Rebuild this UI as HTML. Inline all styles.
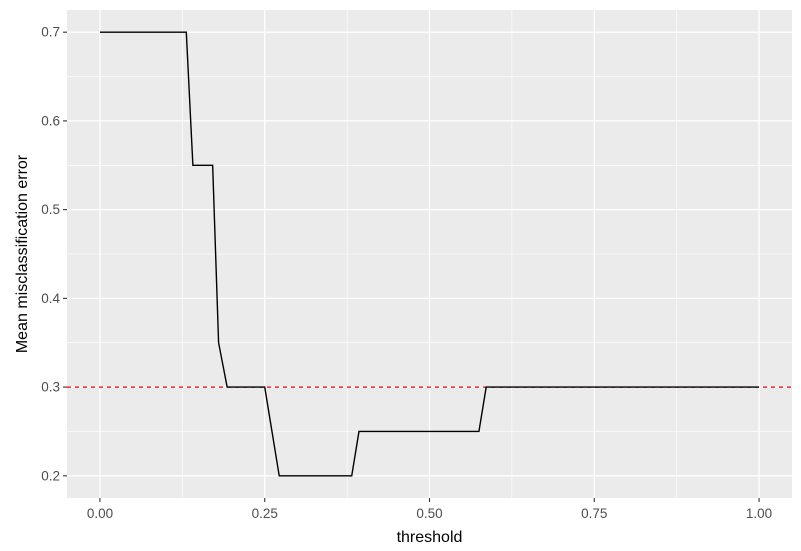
<!DOCTYPE html>
<html><head><meta charset="utf-8"><style>body{margin:0;background:#fff}svg{display:block;font-family:"Liberation Sans",sans-serif}</style></head>
<body>
<svg id="chart" width="801" height="551"></svg>
<script>
const thresholds=[0,0.131,0.141,0.171,0.18,0.193,0.25,0.272,0.382,0.393,0.575,0.586,1.0];
const errors=[0.7,0.7,0.55,0.55,0.35,0.30,0.30,0.20,0.20,0.25,0.25,0.30,0.30];
const xTicks=[0,0.25,0.5,0.75,1.0];
const xTickLabels=["0.00","0.25","0.50","0.75","1.00"];
const yTicks=[0.2,0.3,0.4,0.5,0.6,0.7];
const yTickLabels=["0.2","0.3","0.4","0.5","0.6","0.7"];
const refLine=0.3;
const NS="http://www.w3.org/2000/svg";
const svg=document.getElementById('chart');
const L=67,R=792,T=10,B=498;
const x=v=>L+(v+0.05)/1.1*(R-L);
const y=v=>B-(v-0.175)/0.55*(B-T);
function mk(tag,attrs,parent){const e=document.createElementNS(NS,tag);for(const k in attrs)e.setAttribute(k,attrs[k]);(parent||svg).appendChild(e);return e;}
const panel=mk('rect',{x:L,y:T,width:R-L,height:B-T,fill:'#ebebeb'});


const grid=mk('g',{});


for(let i=0;i<xTicks.length-1;i++){const m=(xTicks[i]+xTicks[i+1])/2;mk('line',{x1:x(m),x2:x(m),y1:T,y2:B,stroke:'#fff','stroke-width':0.6},grid);}
for(let i=0;i<yTicks.length-1;i++){const m=(yTicks[i]+yTicks[i+1])/2;mk('line',{x1:L,x2:R,y1:y(m),y2:y(m),stroke:'#fff','stroke-width':0.6},grid);}
xTicks.forEach((v,i)=>{mk('line',{x1:x(v),x2:x(v),y1:T,y2:B,stroke:'#fff','stroke-width':1.3},grid);
 mk('line',{x1:x(v),x2:x(v),y1:B,y2:B+4,stroke:'#333','stroke-width':1.1});
 const t=mk('text',{x:x(v),y:B+20,'text-anchor':'middle','font-size':13.5,fill:'#4d4d4d'});t.textContent=xTickLabels[i];
 
 });
yTicks.forEach((v,i)=>{mk('line',{x1:L,x2:R,y1:y(v),y2:y(v),stroke:'#fff','stroke-width':1.3},grid);
 mk('line',{x1:L-4,x2:L,y1:y(v),y2:y(v),stroke:'#333','stroke-width':1.1});
 const t=mk('text',{x:L-7,y:y(v)+4.5,'text-anchor':'end','font-size':13.5,fill:'#4d4d4d'});t.textContent=yTickLabels[i];
 
 });
const ref=mk('line',{x1:L,x2:R,y1:y(refLine),y2:y(refLine),stroke:'#ff0000','stroke-width':1.3,'stroke-dasharray':'4,4'});


const line=mk('polyline',{points:thresholds.map((t,i)=>x(t)+','+y(errors[i])).join(' '),fill:'none',stroke:'#000','stroke-width':1.4});


const xt=mk('text',{x:(L+R)/2,y:542,'text-anchor':'middle','font-size':16,fill:'#000'});xt.textContent='threshold';


const yt=mk('text',{x:0,y:0,transform:`translate(27,${(T+B)/2}) rotate(-90)`,'text-anchor':'middle','font-size':16,fill:'#000'});yt.textContent='Mean misclassification error';


</script>
</body></html>
